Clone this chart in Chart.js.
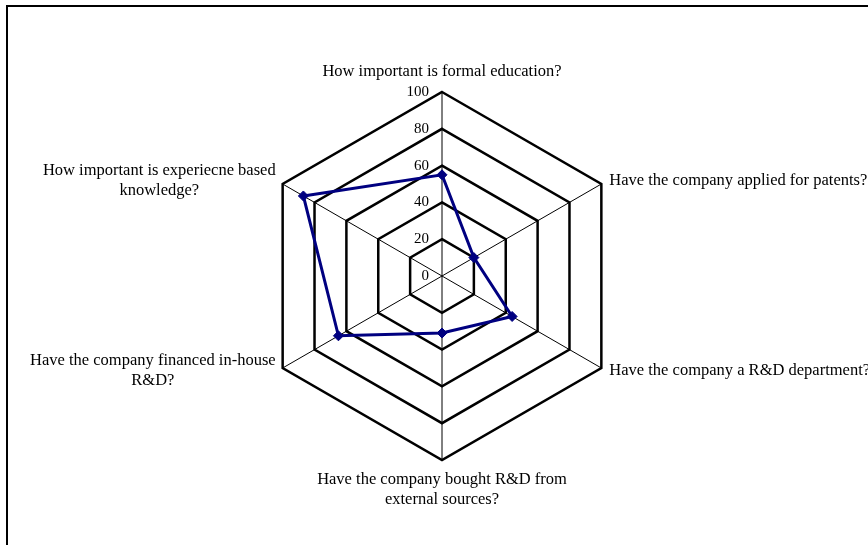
<!DOCTYPE html>
<html>
<head>
<meta charset="utf-8">
<script src="https://cdn.jsdelivr.net/npm/chart.js@4"></script>
<style>
  html, body { margin: 0; padding: 0; background: #fff; overflow: hidden; }
  #wrap { position: relative; width: 868px; height: 545px; }
  #frame { position: absolute; left: 6px; top: 5px; width: 2000px; height: 2000px;
           border-left: 2px solid #000; border-top: 2px solid #000; }
  canvas { position: absolute; left: 0; top: 0; }
</style>
</head>
<body>
<div id="wrap">
  <div id="frame"></div>
  <canvas id="radar" width="868" height="545"></canvas>
</div>
<script>
// categories (one array of lines per axis, wrapped like the original)
const categories = [
  ['How important is formal education?'],
  ['Have the company applied for patents?'],
  ['Have the company a R&D department?'],
  ['Have the company bought R&D from', 'external sources?'],
  ['Have the company financed in-house', 'R&D?'],
  ['How important is experiecne based', 'knowledge?']
];
const scores = [55, 20, 44, 31, 65, 87];
const tickValues = [0, 20, 40, 60, 80, 100];

const serif = '"Liberation Serif", "Times New Roman", serif';

// axis labels and tick numbers drawn the way the original places them
const labelPlugin = {
  id: 'radarText',
  afterDraw(chart) {
    const scale = chart.scales.r;
    const ctx = chart.ctx;
    ctx.save();
    ctx.fillStyle = '#000';
    ctx.textBaseline = 'middle';

    // tick numbers, left of the vertical axis
    ctx.font = '15px ' + serif;
    ctx.textAlign = 'right';
    tickValues.forEach(v => {
      const d = scale.getDistanceFromCenterForValue(v);
      ctx.fillText(String(v), scale.xCenter - 13, scale.yCenter - d);
    });

    // axis labels
    ctx.font = '16.5px ' + serif;
    ctx.textAlign = 'center';
    const lineH = 20;
    categories.forEach((lines, i) => {
      const p = scale.getPointPosition(i, scale.drawingArea);
      const dx = p.x - scale.xCenter;
      const dy = p.y - scale.yCenter;
      const n = lines.length;
      const w = Math.max(...lines.map(t => ctx.measureText(t).width));
      let cx, y;
      if (Math.abs(dx) < 1) {
        cx = p.x;
        y = dy < 0 ? p.y - 20 - (n - 1) * lineH : p.y + 20;
      } else {
        cx = dx > 0 ? p.x + 8 + w / 2 : p.x - 7 - w / 2;
        y = p.y + (dy < 0 ? -3 : 3) - (n - 1) * lineH / 2;
      }
      lines.forEach((t, k) => ctx.fillText(t, cx, y + k * lineH));
    });
    ctx.restore();
  }
};

const ctx = document.getElementById('radar').getContext('2d');
const chart = new Chart(ctx, {
  type: 'radar',
  data: {
    labels: categories,
    datasets: [{
      label: 'Score',
      data: scores,
      borderColor: '#000080',
      backgroundColor: '#000080',
      borderWidth: 3,
      fill: false,
      tension: 0,
      pointStyle: 'rectRot',
      pointRadius: 5,
      pointBorderWidth: 1,
      pointBackgroundColor: '#000080',
      pointBorderColor: '#000080'
    }]
  },
  options: {
    responsive: false,
    animation: false,
    layout: {
      padding: { top: 92, bottom: 85, left: 257, right: 241 }
    },
    plugins: {
      legend: { display: false },
      tooltip: { enabled: false }
    },
    scales: {
      r: {
        min: 0,
        max: 100,
        ticks: { stepSize: 20, display: false },
        pointLabels: { display: false },
        grid: { color: '#000', lineWidth: 2.5 },
        angleLines: { color: '#000', lineWidth: 1 }
      }
    }
  },
  plugins: [labelPlugin]
});
</script>
</body>
</html>
